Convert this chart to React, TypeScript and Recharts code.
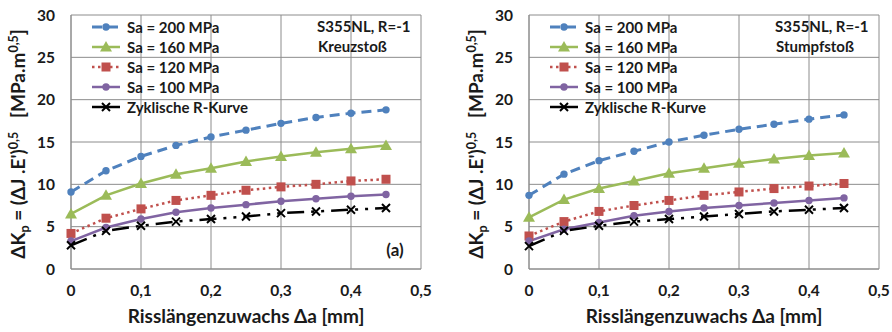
import React from "react";
import { LineChart, Line, XAxis, YAxis, CartesianGrid, Legend } from "recharts";

// crack growth Δa [mm]
const crackGrowth = [0, 0.05, 0.1, 0.15, 0.2, 0.25, 0.3, 0.35, 0.4, 0.45];

// ΔKp for the cruciform joint (Kreuzstoß)
const kreuzSa200 = [9.1, 11.6, 13.3, 14.6, 15.6, 16.4, 17.2, 17.9, 18.4, 18.8];
const kreuzSa160 = [6.5, 8.7, 10.1, 11.2, 11.9, 12.7, 13.3, 13.8, 14.2, 14.6];
const kreuzSa120 = [4.2, 6.0, 7.1, 8.1, 8.7, 9.3, 9.7, 10.0, 10.4, 10.6];
const kreuzSa100 = [3.3, 4.9, 5.9, 6.7, 7.2, 7.6, 8.0, 8.3, 8.6, 8.8];
const kreuzRCurve = [2.8, 4.5, 5.1, 5.6, 5.9, 6.2, 6.6, 6.8, 7.0, 7.2];

// ΔKp for the butt joint (Stumpfstoß)
const stumpfSa200 = [8.7, 11.2, 12.8, 13.9, 15.0, 15.8, 16.5, 17.1, 17.7, 18.2];
const stumpfSa160 = [6.1, 8.2, 9.5, 10.4, 11.3, 11.9, 12.5, 13.0, 13.4, 13.7];
const stumpfSa120 = [3.9, 5.6, 6.8, 7.5, 8.1, 8.7, 9.1, 9.5, 9.8, 10.1];
const stumpfSa100 = [3.3, 4.7, 5.5, 6.3, 6.8, 7.2, 7.5, 7.8, 8.1, 8.4];
const stumpfRCurve = [2.7, 4.5, 5.1, 5.6, 5.9, 6.2, 6.5, 6.8, 7.0, 7.2];

const xTicks = [0, 0.1, 0.2, 0.3, 0.4, 0.5];
const yTicks = [0, 5, 10, 15, 20, 25, 30];

const FONT = "Lato, 'Open Sans', sans-serif";
const TEXT = "#1a1a1a";
const GRID = "#8c8c8c";

type MarkerKind = "circle" | "triangle" | "square" | "cross";

interface SeriesStyle {
  key: string;
  name: string;
  color: string;
  dash?: string;
  width: number;
  marker: MarkerKind;
}

const seriesStyles: SeriesStyle[] = [
  { key: "sa200", name: "Sa = 200 MPa", color: "#4f81bd", dash: "10 6", width: 3, marker: "circle" },
  { key: "sa160", name: "Sa = 160 MPa", color: "#9bbb59", width: 2.5, marker: "triangle" },
  { key: "sa120", name: "Sa = 120 MPa", color: "#c0504d", dash: "2.5 3.5", width: 2.5, marker: "square" },
  { key: "sa100", name: "Sa = 100 MPa", color: "#8064a2", width: 2.5, marker: "circle" },
  { key: "rCurve", name: "Zyklische R-Kurve", color: "#000000", dash: "17 7 3 7 3 7", width: 2.5, marker: "cross" },
];

function buildRows(s200: number[], s160: number[], s120: number[], s100: number[], r: number[]) {
  return crackGrowth.map((x, i) => ({
    x,
    sa200: s200[i],
    sa160: s160[i],
    sa120: s120[i],
    sa100: s100[i],
    rCurve: r[i],
  }));
}

function Marker({ cx, cy, kind, color }: { cx: number; cy: number; kind: MarkerKind; color: string }) {
  if (kind === "circle") return <circle cx={cx} cy={cy} r={3.7} fill={color} />;
  if (kind === "square") return <rect x={cx - 4.5} y={cy - 4.5} width={9} height={9} fill={color} />;
  if (kind === "triangle")
    return <polygon points={`${cx},${cy - 6} ${cx + 6},${cy + 4.5} ${cx - 6},${cy + 4.5}`} fill={color} />;
  return (
    <path
      d={`M${cx - 4},${cy - 4}L${cx + 4},${cy + 4}M${cx - 4},${cy + 4}L${cx + 4},${cy - 4}`}
      stroke={color}
      strokeWidth={2}
    />
  );
}

function LegendBox() {
  return (
    <div style={{ fontFamily: FONT, fontWeight: 700, fontSize: 15, color: TEXT }}>
      {seriesStyles.map((s) => (
        <div key={s.key} style={{ display: "flex", alignItems: "center", height: 20 }}>
          <svg width={36} height={20}>
            <line
              x1={1}
              y1={10}
              x2={29}
              y2={10}
              stroke={s.color}
              strokeWidth={s.width}
              strokeDasharray={s.key === "rCurve" ? undefined : s.dash}
            />
            <Marker cx={15} cy={10} kind={s.marker} color={s.color} />
          </svg>
          <span style={{ whiteSpace: "nowrap" }}>{s.name}</span>
        </div>
      ))}
    </div>
  );
}

interface PanelProps {
  rows: ReturnType<typeof buildRows>;
  plotLeft: number;
  plotRight: number;
  joint: string;
  tag?: string;
}

function Panel({ rows, plotLeft, plotRight, joint, tag }: PanelProps) {
  const W = 446;
  const H = 332;
  const plotTop = 15;
  const plotBottom = 269;
  const midX = (plotLeft + plotRight) / 2;
  const midY = (plotTop + plotBottom) / 2;

  return (
    <div style={{ position: "relative", width: W, height: H }}>
      <LineChart
        width={W}
        height={H}
        data={rows}
        margin={{ top: plotTop, right: W - plotRight, left: 0, bottom: H - plotBottom - 30 }}
      >
        <CartesianGrid stroke={GRID} strokeWidth={1} />
        <XAxis
          dataKey="x"
          type="number"
          domain={[0, 0.5]}
          ticks={xTicks}
          height={30}
          tickLine={false}
          tickSize={0}
          tickMargin={16}
          axisLine={{ stroke: GRID }}
          tickFormatter={(v: number) => String(v).replace(".", ",")}
          tick={{ fill: TEXT, fontSize: 15.5, fontWeight: 700, fontFamily: FONT }}
        />
        <YAxis
          type="number"
          domain={[0, 30]}
          ticks={yTicks}
          width={plotLeft}
          tickLine={false}
          tickSize={0}
          tickMargin={16}
          axisLine={{ stroke: GRID }}
          tick={{ fill: TEXT, fontSize: 15.5, fontWeight: 700, fontFamily: FONT }}
        />
        <Legend
          layout="vertical"
          align="center"
          verticalAlign="middle"
          content={() => <LegendBox />}
          wrapperStyle={{ left: plotLeft + 20, top: 17, width: 220 }}
        />
        {seriesStyles.map((s) => (
          <Line
            key={s.key}
            dataKey={s.key}
            name={s.name}
            stroke={s.color}
            strokeWidth={s.width}
            strokeDasharray={s.dash}
            isAnimationActive={false}
            dot={(p: any) => <Marker key={`${s.key}-${p.index}`} cx={p.cx} cy={p.cy} kind={s.marker} color={s.color} />}
            activeDot={false}
          />
        ))}
      </LineChart>
      <svg
        width={W}
        height={H}
        style={{ position: "absolute", left: 0, top: 0, pointerEvents: "none" }}
        fontFamily={FONT}
        fontWeight={700}
        fill={TEXT}
      >
        <text
          transform={`translate(${plotLeft - 46},${midY + 2}) rotate(-90)`}
          textAnchor="middle"
          fontSize={19}
          style={{ whiteSpace: "pre" }}
        >
          ΔK
          <tspan dy={4} fontSize={12.5}>p</tspan>
          <tspan dy={-4}> = (ΔJ .E')</tspan>
          <tspan dy={-7} fontSize={12.5}>0,5</tspan>
          <tspan dy={7}>{"   [MPa.m"}</tspan>
          <tspan dy={-7} fontSize={12.5}>0,5</tspan>
          <tspan dy={7}>]</tspan>
        </text>
        <text x={midX} y={323} textAnchor="middle" fontSize={19}>
          Risslängenzuwachs Δa [mm]
        </text>
        <text x={plotRight - 104} y={32} fontSize={15}>
          S355NL, R=-1
        </text>
        <text x={plotRight - 103} y={52} fontSize={15}>
          {joint}
        </text>
        {tag && (
          <text x={plotRight - 26} y={256} textAnchor="middle" fontSize={17}>
            {tag}
          </text>
        )}
      </svg>
    </div>
  );
}

export default function App() {
  const kreuzRows = buildRows(kreuzSa200, kreuzSa160, kreuzSa120, kreuzSa100, kreuzRCurve);
  const stumpfRows = buildRows(stumpfSa200, stumpfSa160, stumpfSa120, stumpfSa100, stumpfRCurve);

  return (
    <div style={{ position: "absolute", left: 0, top: 0, width: 892, height: 332, display: "flex", background: "#fff" }}>
      <Panel rows={kreuzRows} plotLeft={71} plotRight={421} joint="Kreuzstoß" tag="(a)" />
      <Panel rows={stumpfRows} plotLeft={83} plotRight={433} joint="Stumpfstoß" />
    </div>
  );
}
